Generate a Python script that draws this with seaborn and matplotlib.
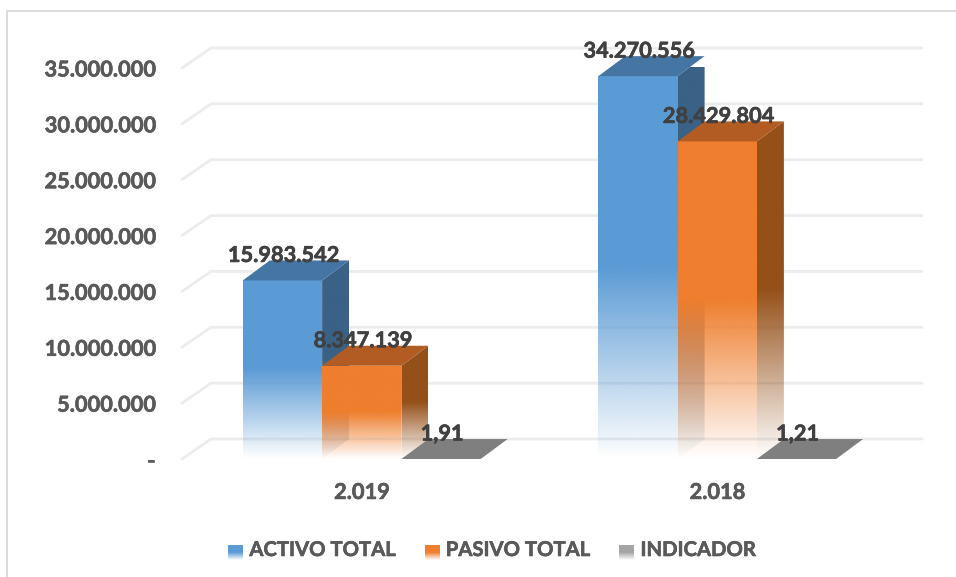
import numpy as np
import pandas as pd
import seaborn as sns
import matplotlib
matplotlib.use("Agg")
import matplotlib.pyplot as plt
import matplotlib.patheffects as pe
from matplotlib.colors import to_rgb
from matplotlib.lines import Line2D
from matplotlib.patches import Polygon, Rectangle
from matplotlib.legend_handler import HandlerBase

# ---- data ----
categories = ["2.019", "2.018"]
series_names = ["ACTIVO TOTAL", "PASIVO TOTAL", "INDICADOR"]
activo = [15983542, 34270556]
pasivo = [8347139, 28429804]
indicador = [1.91, 1.21]
activo_labels = ["15.983.542", "34.270.556"]
pasivo_labels = ["8.347.139", "28.429.804"]
indicador_labels = ["1,91", "1,21"]
y_ticks = [0, 5000000, 10000000, 15000000, 20000000, 25000000, 30000000, 35000000]
y_tick_labels = ["-", "5.000.000", "10.000.000", "15.000.000", "20.000.000",
                 "25.000.000", "30.000.000", "35.000.000"]

# ---- styles ----
front_colors = ["#5b9bd5", "#ef7e2e", "#a5a5a5"]
top_colors = ["#4475a3", "#b25b23", "#7f7f7f"]
side_colors = ["#3a6186", "#955019", "#6e6e6e"]
legend_colors = ["#5b9bd5", "#ef7e2e", "#a5a5a5"]
W, H = 956, 577
FS = 15.7
FS_LEG = 14.6
WEIGHT = "bold"


def thick(color):
    return [pe.withStroke(linewidth=0.45, foreground=color)]


sns.set_theme(style="white")
plt.rcParams["font.family"] = ["Lato", "DejaVu Sans"]
plt.rcParams["font.weight"] = WEIGHT

fig = plt.figure(figsize=(W / 100, H / 100), dpi=100, facecolor="white")
ax = fig.add_axes([184 / W, (H - 459) / H, 711 / W, 391 / H])

df = pd.DataFrame({
    "cat": categories * 3,
    "serie": np.repeat(series_names, 2),
    "valor": activo + pasivo + indicador,
})
sns.barplot(data=df, x="cat", y="valor", hue="serie", order=categories,
            hue_order=series_names, palette=front_colors, width=0.669,
            gap=0, legend=False, ax=ax, errorbar=None)
ax.set_xlim(-0.5, 1.5)
ax.set_ylim(0, 35000000)

# depth of the pseudo-3D box, in data units
px_x = 2.0 / 711
px_y = 35000000 / 391
DX, DY = 27 * px_x, 20 * px_y


def fade_image(color, x0, x1, y0, y1, clip_xy, z, solid_from):
    """Vertical alpha fade image clipped to a polygon."""
    n = 256
    rgba = np.zeros((n, 2, 4))
    rgba[..., :3] = to_rgb(color)
    a = np.clip(np.linspace(0, 1, n) / solid_from, 0, 1)
    rgba[..., 3] = a[:, None]
    im = ax.imshow(rgba, origin="lower", extent=(x0, x1, y0, y1), aspect="auto",
                   interpolation="bilinear", zorder=z)
    im.set_clip_path(Polygon(clip_xy, closed=True, transform=ax.transData))
    im.set_clip_box(None)
    return im


# gridlines with the floor/wall perspective break
for t in y_ticks:
    ax.add_line(Line2D([-0.5 - 2 * px_x, -0.5 + DX, 1.5 + DX], [t, t + DY, t + DY],
                       color="#ececec", lw=2.0, clip_on=False, zorder=0.5))

bars = list(ax.patches)
texts = [activo_labels, pasivo_labels, indicador_labels]
for s in range(3):
    for c in range(2):
        bar = bars[s * 2 + c]
        x0, x1 = bar.get_x(), bar.get_x() + bar.get_width()
        h = bar.get_height()
        bar.set_visible(False)
        base = 10 + c * 10 + s * 3
        if h > 1000:
            side = [(x1, 0), (x1 + DX, DY), (x1 + DX, h + DY), (x1, h)]
            fade_image(side_colors[s], x1, x1 + DX, 0, h + DY, side, base, 0.5)
            front = [(x0, 0), (x1, 0), (x1, h), (x0, h)]
            fade_image(front_colors[s], x0, x1, 0, h, front, base + 1, 0.5)
        ax.add_patch(Polygon([(x0, h), (x1, h), (x1 + DX, h + DY), (x0 + DX, h + DY)],
                             closed=True, fc=top_colors[s], ec="none",
                             clip_on=False, zorder=base + 1.5))
        ax.text((x0 + x1) / 2 + 1 * px_x, h + 25 * px_y, texts[s][c], ha="center",
                va="center", fontsize=FS, fontweight=WEIGHT, color="#404040",
                zorder=60, clip_on=False, path_effects=thick("#404040"))

ax.set_xlim(-0.5, 1.5)
ax.set_ylim(0, 35000000)
ax.set_yticks(y_ticks, y_tick_labels)
ax.set_xlabel("")
ax.set_ylabel("")
ax.tick_params(axis="y", length=0, pad=21, labelsize=FS, labelcolor="#595959")
ax.tick_params(axis="x", length=0, pad=16.5, labelsize=FS, labelcolor="#595959")
for lab in ax.get_xticklabels() + ax.get_yticklabels():
    lab.set_fontweight(WEIGHT)
    lab.set_path_effects(thick("#595959"))
sns.despine(ax=ax, left=True, bottom=True)
ax.patch.set_alpha(0)


class FadeHandler(HandlerBase):
    def create_artists(self, legend, orig, xd, yd, width, height, fontsize, trans):
        n = 14
        out = []
        col = np.array(to_rgb(orig.get_facecolor()))
        y0 = -yd - 3
        hh = 15.0 * 0.72
        ww = 15.0 * 0.72
        for i in range(n):
            f = min(1, (i + 0.5) / (n * 0.55))
            c = col * f + (1 - f)
            out.append(Rectangle((-xd, y0 + hh * i / n), ww, hh / n + 0.05, fc=c, ec="none",
                                 transform=trans))
        return out


handles = [Rectangle((0, 0), 1, 1, fc=c) for c in legend_colors]
leg = fig.legend(handles, series_names, loc="center", ncol=3, frameon=False,
                 bbox_to_anchor=(492 / W, 1 - 550 / H),
                 handler_map={Rectangle: FadeHandler()}, handlelength=0.74,
                 handletextpad=0.3, columnspacing=1.45, labelcolor="#595959",
                 prop={"weight": WEIGHT, "size": FS_LEG})
for t in leg.get_texts():
    t.set_path_effects(thick("#595959"))

# outer frame fragments
fig.add_artist(Line2D([7 / W, 7 / W, 1], [0, 1 - 11 / H, 1 - 11 / H],
                      transform=fig.transFigure, color="#d9d9d9", lw=1.3))

fig.savefig("out.png", dpi=100, facecolor="white")
